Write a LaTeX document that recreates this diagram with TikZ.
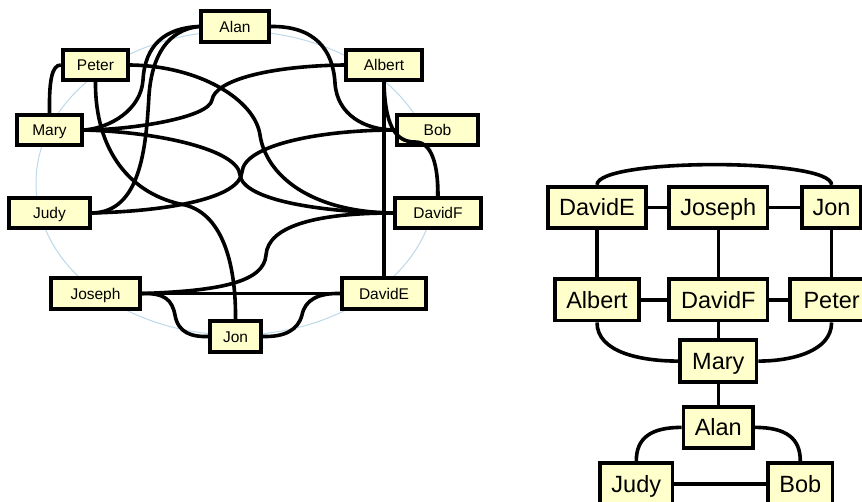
\documentclass[tikz,border=0pt]{standalone}
\usepackage{fontspec}
\setmainfont{Liberation Sans}
\usepackage{xcolor}
\usepackage{tikz}
\usetikzlibrary{positioning}

\definecolor{boxfill}{HTML}{FFFFCC}
\definecolor{ringblue}{HTML}{BCD8EA}

\begin{document}
\begin{tikzpicture}[
  x=1pt, y=-1pt,
  person/.style={rectangle, draw=black, line width=3.8pt, fill=boxfill,
                 minimum height=30.5pt, inner sep=1pt, align=center,
                 text height=11.1pt, text depth=0pt,
                 font=\fontsize{15.5pt}{18pt}\selectfont},
  bigperson/.style={person, minimum height=41.5pt, text height=16.8pt,
                    font=\fontsize{23.5pt}{27pt}\selectfont},
  link/.style={line width=3.6pt},
  ring/.style={draw=ringblue, line width=1pt}
]
\useasboundingbox (0,0) rectangle (862,502);

% ---- Circular layout (left) ----
\draw[ring] (236,183) ellipse [x radius=200pt, y radius=152pt];

\node[person, minimum width=68.5pt] (alan)   at (235,26.5)  {Alan};
\node[person, minimum width=65.5pt] (peter)  at (95.5,65)   {Peter};
\node[person, minimum width=76.5pt] (albert) at (384,65)    {Albert};
\node[person, minimum width=65.5pt] (mary)   at (49.5,130)  {Mary};
\node[person, minimum width=81.5pt] (bob)    at (437.5,130) {Bob};
\node[person, minimum width=81.5pt] (judy)   at (49.5,213)  {Judy};
\node[person, minimum width=86.5pt] (davidF) at (438,213)   {DavidF};
\node[person, minimum width=89.5pt, minimum height=31.5pt] (joseph) at (95.5,293.5) {Joseph};
\node[person, minimum width=84.5pt, minimum height=31.5pt] (davidE) at (384,293.5)  {DavidE};
\node[person, minimum width=51.5pt, minimum height=31.5pt] (jon)    at (235.5,336.5) {Jon};

\draw[link] (alan.east) .. controls (315,26) and (333,50) .. (335,83)
  .. controls (337,115) and (365,130) .. (bob.west);
\draw[link] (albert.west) .. controls (270,66) and (215,80) .. (212,100)
  .. controls (209,118) and (130,130) .. (mary.east);
\draw[link] (alan.west) .. controls (165,28) and (145,45) .. (143,80)
  .. controls (141,110) and (110,128) .. (mary.east);
\draw[link] (alan.west) .. controls (168,30) and (152,55) .. (149,95)
  .. controls (146,150) and (140,212) .. (judy.east);
\draw[link] (peter.west) .. controls (52,65) and (49,80) .. (mary.north);
\draw[link] (peter.east) .. controls (200,66) and (255,100) .. (260,135)
  .. controls (266,175) and (310,212) .. (davidF.west);
\draw[link] (peter.south) .. controls (95,150) and (130,195) .. (185,205)
  .. controls (225,215) and (236,270) .. (jon.north);
\draw[link] (mary.east) .. controls (160,132) and (238,150) .. (240,175)
  .. controls (243,200) and (320,212) .. (davidF.west);
\draw[link] (judy.east) .. controls (170,211) and (240,198) .. (242,172)
  .. controls (244,145) and (320,130) .. (bob.west);
\draw[link] (albert) -- (davidE);
\draw[link] (albert.south) .. controls (385,125) and (395,142) .. (415,142)
  .. controls (432,142) and (438,165) .. (davidF.north);
\draw[link] (joseph.east) .. controls (220,291) and (264,282) .. (266,255)
  .. controls (268,225) and (320,213) .. (davidF.west);
\draw[link] (joseph) -- (davidE);
\draw[link] (joseph.east) .. controls (165,293) and (172,300) .. (175,315)
  .. controls (178,333) and (192,337) .. (jon.west);
\draw[link] (jon.east) .. controls (285,337) and (298,330) .. (302,315)
  .. controls (305,300) and (318,293) .. (davidE.west);

% ---- Layered layout (right) ----
\node[bigperson, minimum width=98.5pt] (davidE2) at (597,207.5) {DavidE};
\node[bigperson, minimum width=98.5pt, right=19pt of davidE2] (joseph2) {Joseph};
\node[bigperson, minimum width=58.5pt, right=31pt of joseph2]  (jon2)    {Jon};
\node[bigperson, minimum width=84.5pt, below=47pt of davidE2]  (albert2) {Albert};
\node[bigperson, minimum width=98.5pt, below=47pt of joseph2]  (davidF2) {DavidF};
\node[bigperson, minimum width=82.5pt, below=47pt of jon2]     (peter2)  {Peter};
\node[bigperson, minimum width=76.5pt, below=16pt of davidF2]  (mary2)   {Mary};
\node[bigperson, minimum width=69.5pt, below=21pt of mary2]    (alan2)   {Alan};
\node[bigperson, minimum width=72.5pt, below=11pt of alan2, xshift=-82pt] (judy2) {Judy};
\node[bigperson, minimum width=64.5pt, below=11pt of alan2, xshift=82pt]  (bob2)  {Bob};

\draw[link] (davidE2) -- (joseph2);
\draw[link] (joseph2) -- (jon2);
\draw[link] (davidE2.north) .. controls +(0,-27) and +(0,-27) .. (jon2.north);
\draw[link] (davidE2) -- (albert2);
\draw[link] (joseph2) -- (davidF2);
\draw[link] (jon2) -- (peter2);
\draw[link] (albert2) -- (davidF2);
\draw[link] (davidF2) -- (peter2);
\draw[link] (albert2.south) .. controls +(0,30) and +(-37,0) .. (mary2.west);
\draw[link] (peter2.south) .. controls +(0,29) and +(33,0) .. (mary2.east);
\draw[link] (davidF2) -- (mary2);
\draw[link] (mary2) -- (alan2);
\draw[link] (alan2.west) .. controls +(-31,0) and +(0,-23) .. (judy2.north);
\draw[link] (alan2.east) .. controls +(31,0) and +(0,-23) .. (bob2.north);
\draw[link] (judy2) -- (bob2);

\end{tikzpicture}
\end{document}
